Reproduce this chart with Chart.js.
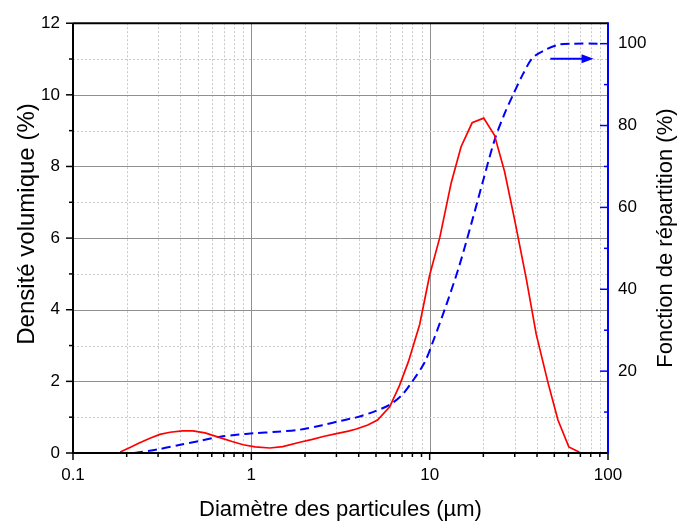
<!DOCTYPE html>
<html>
<head>
<meta charset="utf-8">
<script src="https://cdn.jsdelivr.net/npm/chart.js@4.4.1/dist/chart.umd.min.js"></script>
<style>
  html, body { margin: 0; padding: 0; background: #fff; }
  #wrap { width: 680px; height: 528px; }
</style>
</head>
<body>
<div id="wrap"><canvas id="graphe"></canvas></div>
<script>
// densité volumique (%) en fonction du diamètre (µm)
const densiteDiam = [0.184, 0.21, 0.235, 0.27, 0.307, 0.35, 0.41, 0.47, 0.55, 0.666, 0.78, 0.9, 1.05, 1.27, 1.5, 1.87, 2.2, 2.53, 3.0, 3.5, 3.88, 4.5, 5.1, 5.97, 6.77, 7.6, 8.79, 10, 11.4, 13.2, 15, 17.3, 20.1, 23.1, 26.3, 29.9, 34.8, 39.6, 46, 52.4, 60.3, 69.2];
const densiteVal = [0.03, 0.16, 0.28, 0.41, 0.52, 0.58, 0.62, 0.62, 0.56, 0.43, 0.32, 0.23, 0.17, 0.14, 0.18, 0.30, 0.38, 0.46, 0.54, 0.61, 0.67, 0.78, 0.92, 1.29, 1.88, 2.55, 3.59, 4.97, 6.02, 7.54, 8.55, 9.22, 9.35, 8.87, 7.86, 6.53, 4.87, 3.31, 1.98, 0.92, 0.17, 0.02];

// fonction de répartition (%)
const cumulDiam = [0.22, 0.3, 0.4, 0.52, 0.67, 0.85, 1.02, 1.4, 1.87, 2.5, 3.2, 3.88, 4.8, 5.97, 7.0, 8.06, 9.36, 10.5, 12.4, 14.7, 17.5, 19.9, 23.1, 26.3, 29.2, 33.3, 37.9, 45.1, 53.5, 63, 88];
const cumulVal = [0, 0.9, 2.0, 3.0, 4.0, 4.5, 4.8, 5.2, 5.7, 6.8, 7.9, 8.7, 10.0, 11.8, 14.2, 17.7, 22.1, 27.5, 36.2, 45.9, 57.5, 66.4, 76.4, 82.9, 87.3, 92.5, 96.6, 98.6, 99.8, 100, 100];

const xTicks = [0.1, 1, 10, 100];
const yTicks = [0, 2, 4, 6, 8, 10, 12];
const y2Ticks = [20, 40, 60, 80, 100];

// flèche qui indique l'axe de droite
const flecheX = [47.5, 83];
const flecheY = 96.3;

const titreGauche = 'Densité volumique (%)';
const titreDroit = 'Fonction de répartition (%)';
const police = "'Liberation Sans', Arial, sans-serif";
const BLEU = '#0000ff';
const ROUGE = '#ff0000';

const ligne = (ctx, x1, y1, x2, y2) => {
    ctx.beginPath();
    ctx.moveTo(x1, y1);
    ctx.lineTo(x2, y2);
    ctx.stroke();
};

const titreVertical = (ctx, texte, x, y, taille) => {
    ctx.save();
    ctx.fillStyle = '#000';
    ctx.font = taille + 'px ' + police;
    ctx.textAlign = 'center';
    ctx.textBaseline = 'middle';
    ctx.translate(x, y);
    ctx.rotate(-Math.PI / 2);
    ctx.fillText(texte, 0, 0);
    ctx.restore();
};

const cadre = {
    id: 'cadre',
    beforeDatasetsDraw(chart) {
        const { ctx, chartArea: a, scales: { x, y } } = chart;
        ctx.save();
        ctx.lineWidth = 1;
        // grille verticale
        for (const e of [-1, 0, 1]) {
            for (let k = 1; k < 10; k++) {
                if (e === -1 && k === 1) continue;
                const px = Math.round(x.getPixelForValue(k * Math.pow(10, e))) + 0.5;
                if (k === 1) {
                    ctx.strokeStyle = '#909090';
                    ctx.setLineDash([]);
                } else {
                    ctx.strokeStyle = '#c8c8c8';
                    ctx.setLineDash([2, 2]);
                }
                ligne(ctx, px, a.top, px, a.bottom);
            }
        }
        // grille horizontale
        for (let v = 1; v < 12; v++) {
            const py = Math.round(y.getPixelForValue(v)) + 0.5;
            if (v % 2 === 0) {
                ctx.strokeStyle = '#909090';
                ctx.setLineDash([]);
            } else {
                ctx.strokeStyle = '#c8c8c8';
                ctx.setLineDash([2, 2]);
            }
            ligne(ctx, a.left, py, a.right, py);
        }
        ctx.restore();
    },
    afterDatasetsDraw(chart) {
        const { ctx, chartArea: a, scales: { x, y, y2 } } = chart;
        ctx.save();
        ctx.setLineDash([]);
        ctx.lineWidth = 2;
        ctx.strokeStyle = '#000';
        ligne(ctx, a.left, a.top, a.right, a.top);
        ligne(ctx, a.left, a.top, a.left, a.bottom + 1);
        ligne(ctx, a.left - 1, a.bottom, a.right, a.bottom);

        ctx.lineWidth = 1.5;
        // graduations en bas
        for (const e of [-1, 0, 1, 2]) {
            for (let k = 1; k < 10; k++) {
                if (e === 2 && k > 1) break;
                const px = x.getPixelForValue(k * Math.pow(10, e));
                ligne(ctx, px, a.bottom, px, a.bottom + (k === 1 ? 7 : 4));
            }
        }
        // graduations à gauche
        for (let v = 0; v <= 12; v++) {
            const py = y.getPixelForValue(v);
            ligne(ctx, a.left, py, a.left - (v % 2 === 0 ? 7 : 4), py);
        }
        // axe de droite, en bleu, graduations vers l'intérieur
        ctx.strokeStyle = BLEU;
        ctx.fillStyle = BLEU;
        for (let v = 10; v <= 100; v += 10) {
            const py = y2.getPixelForValue(v);
            ligne(ctx, a.right, py, a.right - (v % 20 === 0 ? 8 : 4), py);
        }
        ctx.lineWidth = 2;
        ligne(ctx, a.right, a.top - 1, a.right, a.bottom + 1);

        // flèche
        const fy = y2.getPixelForValue(flecheY);
        const fx1 = x.getPixelForValue(flecheX[0]);
        const fx2 = x.getPixelForValue(flecheX[1]);
        ligne(ctx, fx1, fy, fx2 - 8, fy);
        ctx.beginPath();
        ctx.moveTo(fx2, fy);
        ctx.lineTo(fx2 - 12, fy - 4.5);
        ctx.lineTo(fx2 - 12, fy + 4.5);
        ctx.closePath();
        ctx.fill();
        ctx.restore();

        // titres des axes verticaux (lus de bas en haut)
        titreVertical(ctx, titreGauche, 27, 224, 24);
        titreVertical(ctx, titreDroit, 666, (a.top + a.bottom) / 2, 22);
    }
};

const points = (xs, ys) => xs.map((d, i) => ({ x: d, y: ys[i] }));

new Chart(document.getElementById('graphe'), {
    type: 'line',
    data: {
        datasets: [
            {
                label: 'Densité volumique',
                data: points(densiteDiam, densiteVal),
                yAxisID: 'y',
                borderColor: ROUGE,
                borderWidth: 1.7,
                pointRadius: 0,
                tension: 0,
                fill: false,
            },
            {
                label: 'Fonction de répartition',
                data: points(cumulDiam, cumulVal),
                yAxisID: 'y2',
                borderColor: BLEU,
                borderWidth: 2,
                borderDash: [9, 5],
                pointRadius: 0,
                tension: 0.3,
                fill: false,
            },
        ],
    },
    options: {
        responsive: true,
        maintainAspectRatio: false,
        animation: false,
        layout: { padding: { top: 18, left: 0, right: 0, bottom: 0 } },
        plugins: { legend: { display: false }, tooltip: { enabled: false } },
        scales: {
            x: {
                type: 'logarithmic',
                min: 0.1,
                max: 100,
                grid: { display: false, drawTicks: false },
                border: { display: false },
                afterBuildTicks: (s) => { s.ticks = xTicks.map((v) => ({ value: v })); },
                afterFit: (s) => { s.height = 75; },
                ticks: {
                    autoSkip: false,
                    maxRotation: 0,
                    padding: 12,
                    color: '#000',
                    font: { family: police, size: 17 },
                    callback: (v) => String(v),
                },
                title: {
                    display: true,
                    text: 'Diamètre des particules (µm)',
                    color: '#000',
                    font: { family: police, size: 22 },
                    padding: { top: 0, bottom: 5 },
                },
            },
            y: {
                position: 'left',
                min: 0,
                max: 12,
                grid: { display: false, drawTicks: false },
                border: { display: false },
                afterBuildTicks: (s) => { s.ticks = yTicks.map((v) => ({ value: v })); },
                afterFit: (s) => { s.width = 73; },
                ticks: {
                    padding: 13,
                    color: '#000',
                    font: { family: police, size: 17 },
                },
            },
            y2: {
                position: 'right',
                min: 0,
                max: 105,
                grid: { display: false, drawTicks: false },
                border: { display: false },
                afterBuildTicks: (s) => { s.ticks = y2Ticks.map((v) => ({ value: v })); },
                afterFit: (s) => { s.width = 72; },
                ticks: {
                    padding: 10,
                    color: '#000',
                    font: { family: police, size: 17 },
                },
            },
        },
    },
    plugins: [cadre],
});
</script>
</body>
</html>
